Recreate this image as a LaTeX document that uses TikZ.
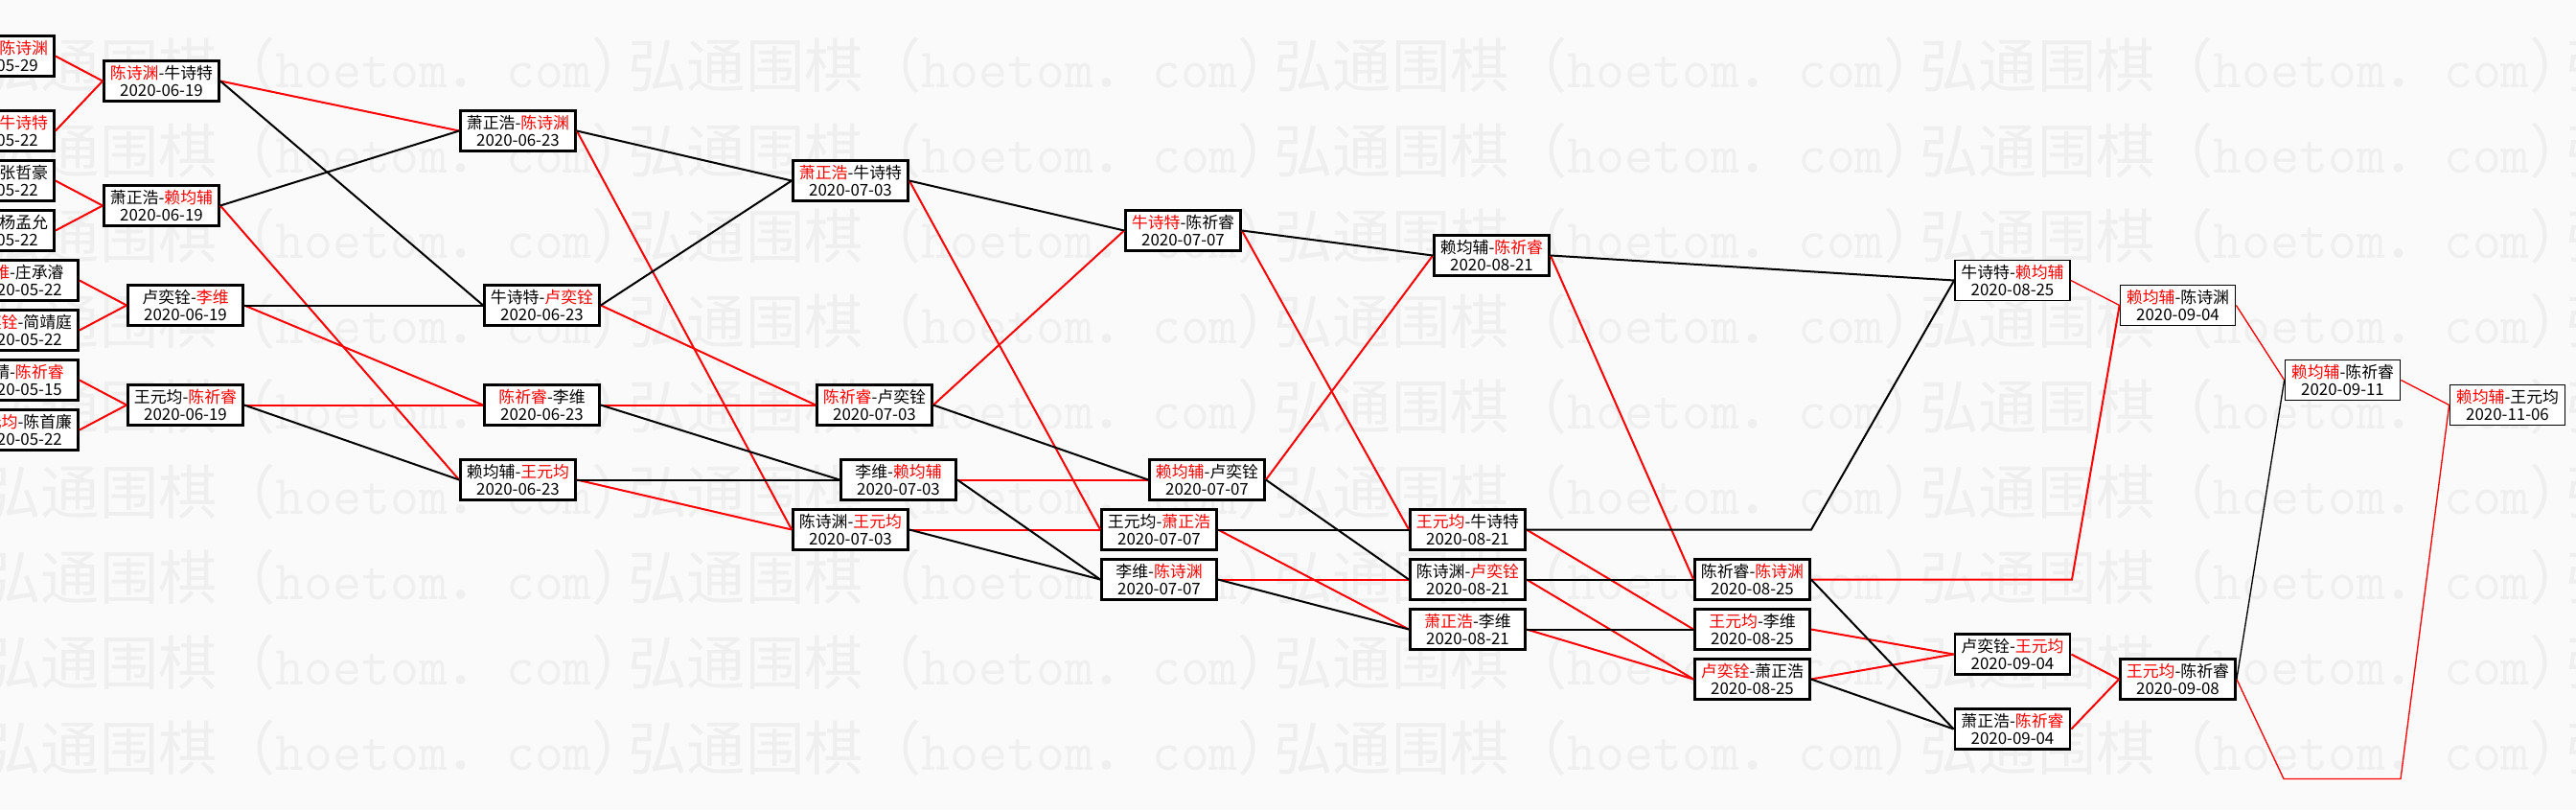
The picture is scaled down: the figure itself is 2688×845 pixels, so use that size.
\documentclass[tikz,border=0pt]{standalone}
\usepackage{fontspec}
\usepackage{calc}
\setmainfont{Noto Sans CJK SC}
\usetikzlibrary{calc}
\definecolor{htRed}{HTML}{FF0000}
\definecolor{htInk}{HTML}{000000}
\definecolor{htPaper}{HTML}{FAFAFA}
\definecolor{htMark}{HTML}{EFEFEF}
\newcommand{\htwin}[1]{\textcolor{htRed}{#1}}
% right part of a cut label, kept at the place the full label would have
\newcommand{\htcut}[2]{\makebox[\widthof{#1}][r]{#2}}
\newcommand{\htmark}{{\fontsize{17.4}{17.4}\selectfont 弘通围棋（}{\ttfamily\fontsize{16.5}{16.5}\selectfont hoetom}{\fontsize{17.4}{17.4}\selectfont ．}{\ttfamily\fontsize{16.5}{16.5}\selectfont com}{\fontsize{17.4}{17.4}\selectfont ）}}
\tikzset{
  ht box/.style={draw=htInk, fill=white, line width=0.77pt, minimum width=1.20cm, minimum height=0.42cm, inner sep=0pt, align=center, font=\fontsize{4.8}{5.3}\selectfont},
  ht thin box/.style={ht box, line width=0.48pt},
  ht win/.style={draw=htRed, line width=0.57pt},
  ht lose/.style={draw=htInk, line width=0.57pt},
  ht thin/.style={line width=0.38pt},
  ht mark/.style={anchor=west, inner sep=0pt, text=htMark},
}

\begin{document}
\begin{tikzpicture}[x=0.01cm, y=-0.01cm]
  \path[use as bounding box, fill=htPaper] (0,0) rectangle (2688,845);
  \clip (0,0) rectangle (2688,845);
  % watermark
  \foreach \r in {0,...,8}
    \foreach \c in {0,...,4}
      \node[ht mark] (wm-\r-\c) at ({-19+674*\c},{68+89*\r}) {\htmark};

  % 2020-05
  \node[ht box] (a1) at (-3.5,58.5) {\htcut{陈诗渊-陈诗渊}{\htwin{陈诗渊}}\\2020-05-29};
  \node[ht box] (a2) at (-3.5,136.5) {\htcut{牛诗特-牛诗特}{\htwin{牛诗特}}\\2020-05-22};
  \node[ht box] (a3) at (-3.5,188.5) {\htwin{萧正浩}-张哲豪\\2020-05-22};
  \node[ht box] (a4) at (-3.5,240.5) {\htwin{赖均辅}-杨孟允\\2020-05-22};
  \node[ht box] (a5) at (21.5,292.5) {\htwin{李维}-庄承濬\\2020-05-22};
  \node[ht box] (a6) at (21.5,344.5) {\htwin{卢奕铨}-简靖庭\\2020-05-22};
  \node[ht box] (a7) at (21.5,396.5) {\htcut{陈祈-陈祈睿}{晴-\htwin{陈祈睿}}\\2020-05-15};
  \node[ht box] (a8) at (21.5,448.5) {\htwin{王元均}-陈首廉\\2020-05-22};
  % 2020-06
  \node[ht box] (b1) at (168.5,84.5) {\htwin{陈诗渊}-牛诗特\\2020-06-19};
  \node[ht box] (b2) at (168.5,214.5) {萧正浩-\htwin{赖均辅}\\2020-06-19};
  \node[ht box] (b3) at (193.5,318.5) {卢奕铨-\htwin{李维}\\2020-06-19};
  \node[ht box] (b4) at (193.5,422.5) {王元均-\htwin{陈祈睿}\\2020-06-19};
  \node[ht box] (c1) at (540.5,136.5) {萧正浩-\htwin{陈诗渊}\\2020-06-23};
  \node[ht box] (c2) at (565.5,318.5) {牛诗特-\htwin{卢奕铨}\\2020-06-23};
  \node[ht box] (c3) at (565.5,422.5) {\htwin{陈祈睿}-李维\\2020-06-23};
  \node[ht box] (c4) at (540.5,500.5) {赖均辅-\htwin{王元均}\\2020-06-23};
  % 2020-07
  \node[ht box] (d1) at (887.5,188.5) {\htwin{萧正浩}-牛诗特\\2020-07-03};
  \node[ht box] (d2) at (912.5,422.5) {\htwin{陈祈睿}-卢奕铨\\2020-07-03};
  \node[ht box] (d3) at (937.5,500.5) {李维-\htwin{赖均辅}\\2020-07-03};
  \node[ht box] (d4) at (887.5,552.5) {陈诗渊-\htwin{王元均}\\2020-07-03};
  \node[ht box] (e1) at (1234.5,240.5) {\htwin{牛诗特}-陈祈睿\\2020-07-07};
  \node[ht box] (e2) at (1259.5,500.5) {\htwin{赖均辅}-卢奕铨\\2020-07-07};
  \node[ht box] (e3) at (1209.5,552.5) {王元均-\htwin{萧正浩}\\2020-07-07};
  \node[ht box] (e4) at (1209.5,604.5) {李维-\htwin{陈诗渊}\\2020-07-07};
  % 2020-08
  \node[ht box] (f1) at (1556.5,266.5) {赖均辅-\htwin{陈祈睿}\\2020-08-21};
  \node[ht box] (f2) at (1531.5,552.5) {\htwin{王元均}-牛诗特\\2020-08-21};
  \node[ht box] (f3) at (1531.5,604.5) {陈诗渊-\htwin{卢奕铨}\\2020-08-21};
  \node[ht box] (f4) at (1531.5,656.5) {\htwin{萧正浩}-李维\\2020-08-21};
  \node[ht thin box] (g1) at (2100,292.5) {牛诗特-\htwin{赖均辅}\\2020-08-25};
  \node[ht box] (g2) at (1828.5,604.5) {陈祈睿-\htwin{陈诗渊}\\2020-08-25};
  \node[ht box] (g3) at (1828.5,656.5) {\htwin{王元均}-李维\\2020-08-25};
  \node[ht box] (g4) at (1828.5,708.5) {\htwin{卢奕铨}-萧正浩\\2020-08-25};
  % 2020-09 and final
  \node[ht thin box] (h1) at (2272.5,318.5) {\htwin{赖均辅}-陈诗渊\\2020-09-04};
  \node[ht box] (h2) at (2100,682.5) {卢奕铨-\htwin{王元均}\\2020-09-04};
  \node[ht box] (h3) at (2100,760.5) {萧正浩-\htwin{陈祈睿}\\2020-09-04};
  \node[ht box] (i1) at (2272.5,708.5) {\htwin{王元均}-陈祈睿\\2020-09-08};
  \node[ht thin box] (i2) at (2444.5,396.5) {\htwin{赖均辅}-陈祈睿\\2020-09-11};
  \node[ht thin box] (j1) at (2616.5,422.5) {\htwin{赖均辅}-王元均\\2020-11-06};

  % bends where a path skips a column
  \coordinate (f2x) at (1890,552.5);
  \coordinate (g2x) at (2162,604.5);
  \coordinate (i1x) at (2383,812.5);
  \coordinate (i1y) at (2505,812.5);

  % winners
  \foreach \s/\t in {a1/b1,a2/b1,a3/b2,a4/b2,a5/b3,a6/b3,a7/b4,a8/b4,
                     b1/c1,b2/c4,b3/c3,b4/c3,c1/d4,c2/d2,c3/d2,c4/d4,
                     d1/e3,d2/e1,d3/e2,d4/e3,e1/f2,e2/f1,e3/f4,e4/f3,
                     f1/g2,f2/g3,f3/g4,f4/g4,g3/h2,g4/h2,h2/i1,h3/i1}
    \draw[ht win] (\s.east) -- (\t.west);
  \foreach \s/\t in {g1/h1,h1/i2,i2/j1}
    \draw[ht win, ht thin] (\s.east) -- (\t.west);
  \draw[ht win] (g2.east) -- (g2x) -- (h1.west);
  \draw[ht win, ht thin] (i1.east) -- (i1x) -- (i1y) -- (j1.west);
  % losers
  \foreach \s/\t in {b1/c2,b2/c1,b3/c2,b4/c4,c1/d1,c2/d1,c3/d3,c4/d3,
                     d1/e1,d2/e2,d3/e4,d4/e4,e1/f1,e2/f3,e3/f2,e4/f4,
                     f1/g1,f3/g2,f4/g3,g2/h3,g4/h3}
    \draw[ht lose] (\s.east) -- (\t.west);
  \draw[ht lose] (f2.east) -- (f2x) -- (g1.west);
  \draw[ht lose, ht thin] (i1.east) -- (i2.west);
\end{tikzpicture}
\end{document}
